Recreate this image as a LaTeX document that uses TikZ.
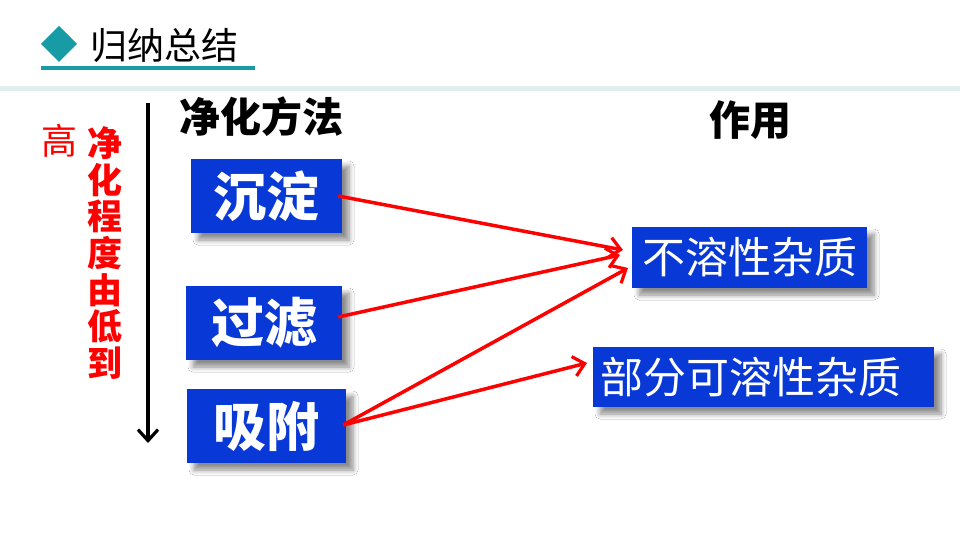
\documentclass[tikz,border=0pt]{standalone}
\usepackage{fontspec}
\setmainfont{Noto Sans CJK SC}
\newfontfamily\cjk{Noto Sans CJK SC}
\usetikzlibrary{arrows.meta,shadows.blur,calc}
\definecolor{boxblue}{RGB}{8,56,214}
\definecolor{teal1}{RGB}{23,155,165}
\definecolor{band}{RGB}{226,238,238}
\definecolor{tred}{RGB}{255,0,0}
\tikzset{
  method/.style={fill=boxblue, text=white, font=\cjk\bfseries\fontsize{53}{53}\selectfont, inner sep=0pt,
    blur shadow={shadow xshift=7pt, shadow yshift=-7pt, shadow blur steps=6, shadow blur radius=5pt, shadow opacity=45}},
  result/.style={fill=boxblue, text=white, font=\cjk\fontsize{43}{43}\selectfont, inner sep=0pt,
    blur shadow={shadow xshift=7pt, shadow yshift=-7pt, shadow blur steps=6, shadow blur radius=5pt, shadow opacity=45}},
  link/.style={draw=tred, line width=3.5pt, -{Straight Barb[length=11pt,width=20pt,line width=3.2pt]}},
  heading/.style={font=\cjk\bfseries\fontsize{41}{41}\selectfont, text=black, inner sep=0pt}
}
\begin{document}
\begin{tikzpicture}[x=1pt,y=-1pt]
\useasboundingbox (0,0) rectangle (960,540);
\fill[white] (0,0) rectangle (960,540);
% header
\fill[teal1] (59,26) -- (77,44) -- (59,62) -- (41,44) -- cycle;
\node[font=\cjk\fontsize{37}{37}\selectfont, inner sep=0pt, anchor=west] (title) at (90,45) {归纳总结};
\fill[teal1] (41,66.5) rectangle (255,70);
\fill[band] (0,86) rectangle (960,91);
% headings
\node[heading] (h1) at (261,117) {净化方法};
\node[heading] (h2) at (750,120) {作用};
% vertical arrow
\coordinate (vtop) at (148,103);
\coordinate (vbot) at (148,443);
\draw[line width=3.5pt, -{Straight Barb[length=11pt,width=20pt,line width=3.2pt]}] (vtop) -- (vbot);
\node[text=tred, font=\cjk\fontsize{36}{36}\selectfont, inner sep=0pt] (gao) at (59,141) {高};
\node[text=tred, font=\cjk\bfseries\fontsize{35}{36.7}\selectfont, align=center, inner sep=0pt] (deg) at (105,253) {净\\化\\程\\度\\由\\低\\到};
% method boxes
\node[method, minimum width=151pt, minimum height=74pt] (b1) at (266.5,196) {沉淀};
\node[method, minimum width=156pt, minimum height=74pt] (b2) at (264,323) {过滤};
\node[method, minimum width=159pt, minimum height=74pt] (b3) at (266.5,426) {吸附};
% result boxes
\node[result, minimum width=235pt, minimum height=61pt] (r1) at (749.5,257.5) {不溶性杂质};
\node[result, minimum width=341pt, minimum height=60pt, text width=327pt, align=left] (r2) at (763.5,377) {部分可溶性杂质};
% arrow endpoints
\coordinate (t1) at (623,250);
\coordinate (t2) at (620,255);
\coordinate (t3) at (628,268);
\coordinate (t4) at (587,363);
\draw[link] ($(b1.east)+(-4,0)$) -- (t1);
\draw[link] ($(b2.east)+(-4,-6)$) -- (t2);
\draw[link] ($(b3.east)+(-3,-1)$) -- (t3);
\draw[link] ($(b3.east)+(-3,-1)$) -- (t4);
\end{tikzpicture}
\end{document}
